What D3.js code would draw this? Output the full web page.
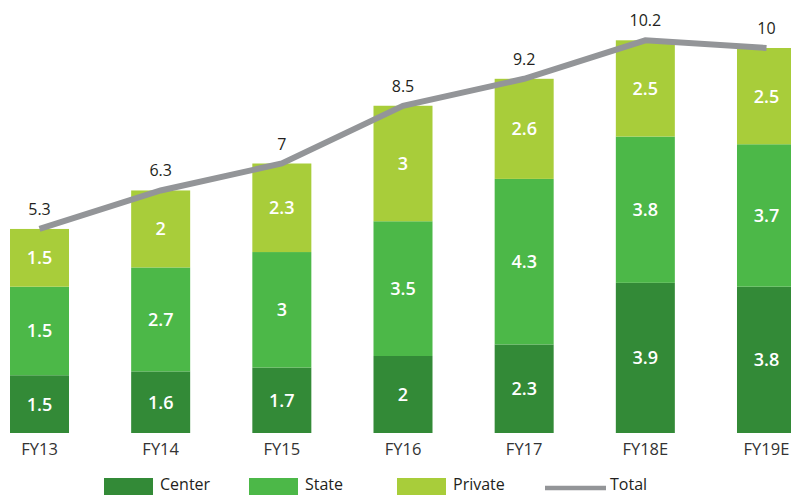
<!DOCTYPE html>
<html>
<head>
<meta charset="utf-8">
<script src="https://cdn.jsdelivr.net/npm/d3@7"></script>
<style>
  html, body { margin: 0; padding: 0; background: #fff; }
  svg { display: block; font-family: "Open Sans", "Noto Sans", sans-serif; }
</style>
</head>
<body>
<svg id="chart" width="791" height="495"></svg>
<script>
const categories = ["FY13", "FY14", "FY15", "FY16", "FY17", "FY18E", "FY19E"];
const centerValues = [1.5, 1.6, 1.7, 2.0, 2.3, 3.9, 3.8];
const stateValues = [2.3, 2.7, 3.0, 3.5, 4.3, 3.8, 3.7];
const privateValues = [1.5, 2.0, 2.3, 3.0, 2.6, 2.5, 2.5];
const totalValues = [5.3, 6.3, 7, 8.5, 9.2, 10.2, 10];
const centerLabels = ["1.5", "1.6", "1.7", "2", "2.3", "3.9", "3.8"];
const stateLabels = ["1.5", "2.7", "3", "3.5", "4.3", "3.8", "3.7"];
const privateLabels = ["1.5", "2", "2.3", "3", "2.6", "2.5", "2.5"];
const totalLabels = ["5.3", "6.3", "7", "8.5", "9.2", "10.2", "10"];
const seriesNames = ["Center", "State", "Private", "Total"];

const colors = { Center: "#338a37", State: "#4cb848", Private: "#a8cd3a", Total: "#939598" };

const svg = d3.select("#chart");
const x = d3.scaleBand().domain(categories).range([10, 796]).paddingInner(0.513).paddingOuter(0);
const y = d3.scaleLinear().domain([0, 433 / 38.5]).range([433, 0]);

const rows = categories.map((c, i) => ({
  cat: c,
  Center: centerValues[i], State: stateValues[i], Private: privateValues[i],
  labels: { Center: centerLabels[i], State: stateLabels[i], Private: privateLabels[i] }
}));
const stack = d3.stack().keys(["Center", "State", "Private"]);
const layers = stack(rows);

const g = svg.append("g");
layers.forEach(layer => {
  const key = layer.key;
  const lg = g.append("g");
  lg.selectAll("rect").data(layer).join("rect")
    .attr("x", d => x(d.data.cat))
    .attr("width", x.bandwidth())
    .attr("y", d => y(d[1]))
    .attr("height", d => y(d[0]) - y(d[1]))
    .attr("fill", colors[key]);
  lg.selectAll("text").data(layer).join("text")
    .attr("x", d => x(d.data.cat) + x.bandwidth() / 2)
    .attr("y", d => (y(d[0]) + y(d[1])) / 2 + 6.5)
    .attr("text-anchor", "middle")
    .attr("fill", "#fff")
    .attr("font-size", 18)
    .attr("font-weight", 600)
    .text(d => d.data.labels[key]);
});

// Total line
const line = d3.line()
  .x((d, i) => x(categories[i]) + x.bandwidth() / 2)
  .y(d => y(d));
g.append("path")
  .datum(totalValues)
  .attr("d", line)
  .attr("fill", "none")
  .attr("stroke", colors.Total)
  .attr("stroke-width", 6)
  .attr("stroke-linejoin", "miter");

g.selectAll("text.total").data(totalValues).join("text")
  .attr("class", "total")
  .attr("x", (d, i) => x(categories[i]) + x.bandwidth() / 2)
  .attr("y", d => y(d) - 14)
  .attr("text-anchor", "middle")
  .attr("fill", "#231f20")
  .attr("font-size", 16)
  .text((d, i) => totalLabels[i]);

// X axis labels
const xAxis = d3.axisBottom(x).tickSize(0).tickPadding(0);
const ax = svg.append("g").attr("transform", "translate(0,433)").call(xAxis);
ax.select(".domain").remove();
ax.selectAll("text")
  .attr("dy", null)
  .attr("y", 22)
  .attr("font-size", 16.5)
  .attr("font-family", "\"Open Sans\", \"Noto Sans\", sans-serif")
  .attr("fill", "#333");

// Legend
const legendX = [104, 249, 397, 545];
const leg = svg.append("g");
seriesNames.forEach((name, i) => {
  const lx = legendX[i];
  if (name === "Total") {
    leg.append("line").attr("x1", lx).attr("x2", lx + 61).attr("y1", 488).attr("y2", 488)
      .attr("stroke", colors.Total).attr("stroke-width", 4.5);
    leg.append("text").attr("x", lx + 65).attr("y", 490).attr("font-size", 16).attr("fill", "#231f20").text(name);
  } else {
    leg.append("rect").attr("x", lx).attr("y", 478).attr("width", 49).attr("height", 18).attr("fill", colors[name]);
    leg.append("text").attr("x", lx + 56).attr("y", 490).attr("font-size", 16).attr("fill", "#231f20").text(name);
  }
});
</script>
</body>
</html>
